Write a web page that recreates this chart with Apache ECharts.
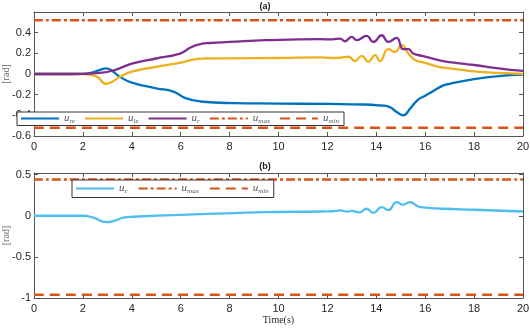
<!DOCTYPE html>
<html>
<head>
<meta charset="utf-8">
<script src="https://cdn.jsdelivr.net/npm/echarts@6/dist/echarts.min.js"></script>
<style>
  html, body { margin: 0; padding: 0; background: #fff; }
  #chart { width: 530px; height: 332px; }
</style>
</head>
<body>
<div id="chart"></div>
<script>
// (a) three control signals
var tRe = [0, 1, 2, 2.4, 2.7, 2.95, 3.2, 3.5, 4, 5, 5.7, 6.2, 6.8, 8.2, 10, 12, 13.5, 14.2, 14.5, 14.85, 15.1, 15.4, 15.7, 16.0, 16.3, 16.7, 17, 18, 19, 20];
var uRe = [0, 0, 0.002, 0.015, 0.04, 0.055, 0.03, -0.025, -0.083, -0.138, -0.17, -0.234, -0.266, -0.282, -0.286, -0.29, -0.295, -0.305, -0.315, -0.37, -0.4, -0.33, -0.25, -0.21, -0.17, -0.115, -0.095, -0.05, -0.02, -0.005];

var tLe = [0, 1, 2, 2.3, 2.6, 2.95, 3.2, 3.5, 4, 5, 6, 6.5, 7, 8, 10, 11.7, 12.2, 12.5, 12.86, 13.13, 13.4, 13.67, 13.95, 14.15, 14.49, 14.76, 15.04, 15.31, 15.58, 15.92, 16.2, 16.54, 17, 17.5, 18, 19, 20];
var uLe = [0, 0, 0, -0.005, -0.03, -0.096, -0.075, -0.03, 0.022, 0.07, 0.109, 0.14, 0.15, 0.152, 0.155, 0.16, 0.155, 0.157, 0.167, 0.125, 0.176, 0.119, 0.183, 0.125, 0.24, 0.215, 0.279, 0.199, 0.135, 0.112, 0.093, 0.07, 0.055, 0.04, 0.025, 0.01, 0];

var tR = [0, 1, 2, 2.7, 3.3, 4, 5, 6, 6.4, 6.8, 7.2, 8, 9.5, 11.7, 12.2, 12.52, 12.72, 12.99, 13.2, 13.6, 13.88, 14.22, 14.49, 14.83, 15.1, 15.31, 15.51, 15.92, 16.54, 17, 17.5, 18, 19, 20];
var uR = [0, 0, 0.002, 0.01, 0.038, 0.1, 0.15, 0.2, 0.257, 0.29, 0.3, 0.31, 0.327, 0.337, 0.335, 0.343, 0.317, 0.359, 0.327, 0.369, 0.311, 0.375, 0.311, 0.349, 0.24, 0.24, 0.199, 0.173, 0.135, 0.115, 0.1, 0.087, 0.055, 0.03];

// (b) combined signal
var tC = [0, 1, 2, 2.4, 2.97, 3.3, 3.7, 4.06, 6, 8.15, 9.4, 11.7, 12.2, 12.52, 12.8, 13.0, 13.3, 13.6, 13.88, 14.22, 14.49, 14.83, 15.1, 15.38, 15.72, 16.0, 16.73, 18, 20];
var uC = [0, 0, 0, -0.02, -0.077, -0.06, -0.02, -0.012, 0.012, 0.032, 0.044, 0.052, 0.055, 0.065, 0.05, 0.06, 0.04, 0.085, 0.035, 0.105, 0.068, 0.165, 0.135, 0.165, 0.113, 0.1, 0.085, 0.073, 0.052];

// limits
var limA = [0.52, -0.52];
var limB = [0.44, -0.96];
var xEnds = [0, 20];

function pairs(t, v) {
    return t.map(function (x, i) { return [x, v[i]]; });
}
function flat(val) {
    return xEnds.map(function (x) { return [x, val]; });
}

var chart = echarts.init(document.getElementById('chart'), null, { renderer: 'canvas' });

var axisCol = '#555';
var labCol = '#262626';
var sans = 'Liberation Sans';
var serif = 'Liberation Serif';

var subNames = {
    ure: ['u', 're'], ule: ['u', 'le'], ur: ['u', 'r'],
    umax: ['u', 'max'], umin: ['u', 'min'], uc: ['u', 'c']
};

function xAx(gi, bottom) {
    return {
        type: 'value', gridIndex: gi, min: 0, max: 20, interval: 2,
        position: bottom ? 'bottom' : 'top',
        name: (bottom && gi === 1) ? 'Time(s)' : '',
        nameLocation: 'middle', nameGap: 17, nameMoveOverlap: false,
        nameTextStyle: { fontFamily: serif, fontSize: 10, color: labCol },
        axisLine: { onZero: false, lineStyle: { color: axisCol, width: 1 } },
        axisTick: { inside: true, length: 4, lineStyle: { color: axisCol } },
        axisLabel: { show: bottom, fontFamily: sans, fontSize: 11, color: labCol, margin: 5 },
        splitLine: { show: false }
    };
}
function yAx(gi, left, min, max, step) {
    return {
        type: 'value', gridIndex: gi, min: min, max: max, interval: step,
        position: left ? 'left' : 'right',
        name: left ? '[rad]' : '',
        nameLocation: 'middle', nameGap: 23, nameRotate: 90, nameMoveOverlap: false,
        nameTextStyle: { fontFamily: serif, fontSize: 10, color: '#666' },
        axisLine: { onZero: false, lineStyle: { color: axisCol, width: 1 } },
        axisTick: { inside: true, length: 4, lineStyle: { color: axisCol } },
        axisLabel: {
            show: left, fontFamily: sans, fontSize: 11, margin: 3,
            formatter: function (v) {
                var n = Number(v);
                return n > 0.55 ? ' ' : String(Math.round(n * 100) / 100);
            },
            color: function (v) {
                return Number(v) > 0.55 ? 'rgba(0,0,0,0)' : labCol;
            }
        },
        splitLine: { show: false }
    };
}

function lineSeries(name, xi, yi, data, color, type, width) {
    return {
        name: name, type: 'line', xAxisIndex: xi, yAxisIndex: yi,
        data: data, showSymbol: false, symbol: 'none', smooth: 0.5,
        lineStyle: { color: color, width: width || 2.3, type: type || 'solid' },
        itemStyle: { color: color },
        silent: true, animation: false, z: 3
    };
}

var legendText = {
    fontFamily: serif, fontSize: 11, color: '#555',
    rich: {
        i: { fontFamily: serif, fontStyle: 'italic', fontSize: 11, color: '#555' },
        s: { fontFamily: serif, fontStyle: 'italic', fontSize: 7, color: '#555', padding: [5, 0, 0, 0] }
    }
};
function legendFmt(n) {
    var p = subNames[n];
    return '{i|' + p[0] + '}{s|' + p[1] + '}';
}

var dashDot = [9, 3, 3, 3];
var dashed = [10, 6];
var orange = '#D95319';

chart.setOption({
    animation: false,
    title: [
        { text: '(a)', left: 'center', top: -3, textStyle: { fontFamily: sans, fontSize: 9, fontWeight: 'bold', color: '#222' } },
        { text: '(b)', left: 'center', top: 157, textStyle: { fontFamily: sans, fontSize: 9, fontWeight: 'bold', color: '#222' } }
    ],
    grid: [
        { left: 34, right: 7, top: 12, height: 124, outerBoundsMode: 'none', containLabel: false },
        { left: 34, right: 7, top: 173, height: 125, outerBoundsMode: 'none', containLabel: false }
    ],
    legend: [
        {
            data: ['ure', 'ule', 'ur', 'umax', 'umin'],
            left: 17, top: 112, orient: 'horizontal',
            itemWidth: 38, itemHeight: 8, itemGap: 9,
            padding: [1, 5, 1, 3],
            backgroundColor: '#fff', borderColor: '#333', borderWidth: 1, borderRadius: 0,
            itemStyle: { opacity: 0 },
            formatter: legendFmt, textStyle: legendText,
            selectedMode: false
        },
        {
            data: ['uc', 'umax', 'umin'],
            left: 72, top: 180, orient: 'horizontal',
            itemWidth: 38, itemHeight: 8, itemGap: 10,
            padding: [3, 5, 3, 3],
            backgroundColor: '#fff', borderColor: '#333', borderWidth: 1, borderRadius: 0,
            itemStyle: { opacity: 0 },
            formatter: legendFmt, textStyle: legendText,
            selectedMode: false
        }
    ],
    xAxis: [xAx(0, true), xAx(0, false), xAx(1, true), xAx(1, false)],
    yAxis: [
        yAx(0, true, -0.6, 0.6, 0.2), yAx(0, false, -0.6, 0.6, 0.2),
        yAx(1, true, -1, 0.52, 0.5), yAx(1, false, -1, 0.52, 0.5)
    ],
    series: [
        lineSeries('ure', 0, 0, pairs(tRe, uRe), '#0072BD'),
        lineSeries('ule', 0, 0, pairs(tLe, uLe), '#EDB120'),
        lineSeries('ur', 0, 0, pairs(tR, uR), '#7E2F8E'),
        lineSeries('umax', 0, 0, flat(limA[0]), orange, dashDot, 2.5),
        lineSeries('umin', 0, 0, flat(limA[1]), orange, dashed, 2.5),
        lineSeries('uc', 2, 2, pairs(tC, uC), '#4DBEEE'),
        lineSeries('umax', 2, 2, flat(limB[0]), orange, dashDot, 2.5),
        lineSeries('umin', 2, 2, flat(limB[1]), orange, dashed, 2.5)
    ]
});
</script>
</body>
</html>
